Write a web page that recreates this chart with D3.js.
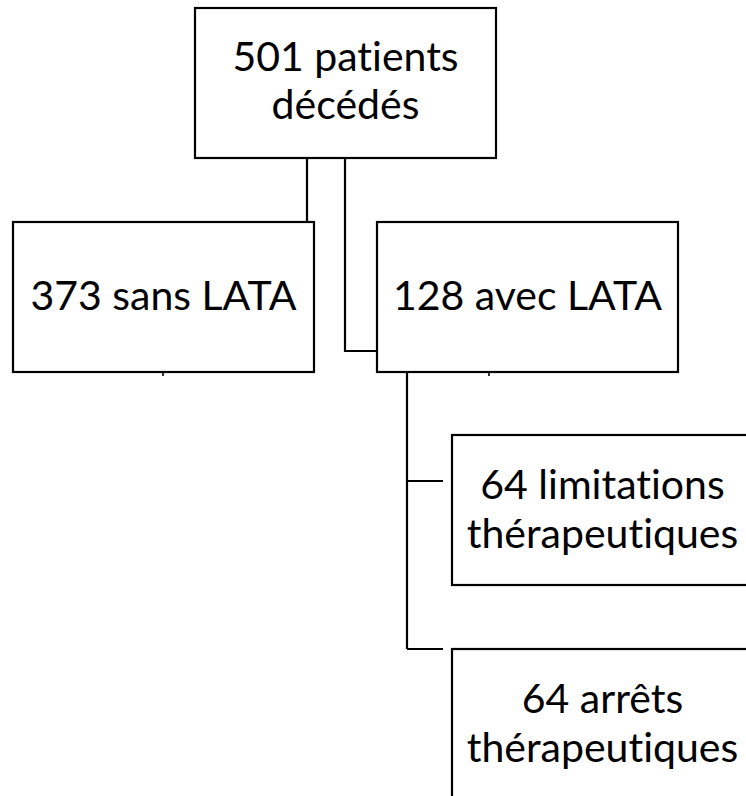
<!DOCTYPE html>
<html>
<head>
<meta charset="utf-8">
<script src="https://cdn.jsdelivr.net/npm/d3@7"></script>
<style>
  html, body { margin: 0; padding: 0; background: #fff; overflow: hidden; }
  svg { display: block; }
  text { font-variant-ligatures: none; font-feature-settings: "liga" 0, "clig" 0; }
</style>
</head>
<body>
<div id="chart"></div>
<script>
// ---- data ----
const counts = [501, 373, 128, 64, 64];
const labelLines = [
  ["patients", "décédés"],
  ["sans LATA"],
  ["avec LATA"],
  ["limitations", "thérapeutiques"],
  ["arrêts", "thérapeutiques"]
];
const parents = [null, 0, 0, 2, 2];

// ---- layout (positions / sizes, separate from data) ----
const W = 746, H = 796;
const boxW = 301, boxH = 150;
const colLeft = [195, 13, 377, 452, 452];
const rowTop  = [8, 222, 222, 435, 649];
const lineGap = [48, 48, 48, 49, 49];
const textShift = [12, 13, 13, 13, 13];
const fontSize = 41;

const svg = d3.select("#chart").append("svg")
  .attr("width", W).attr("height", H)
  .attr("viewBox", `0 0 ${W} ${H}`);

const nodes = counts.map((c, i) => {
  const lines = labelLines[i].slice();
  lines[0] = c + " " + lines[0];
  return {
    id: i, count: c, lines, parent: parents[i],
    x: colLeft[i], y: rowTop[i], w: boxW, h: boxH, gap: lineGap[i], shift: textShift[i]
  };
});

const stroke = "#000";
const sw = 2.2;

// ---- connectors ----
const g = svg.append("g").attr("fill", "none").attr("stroke", stroke).attr("stroke-width", sw);
const root = nodes[0], left = nodes[1], mid = nodes[2];
const link = d3.line();
g.append("path").attr("d", link([[root.x + 112, root.y + root.h], [root.x + 112, left.y], [left.x + left.w, left.y]]));
g.append("path").attr("d", link([[root.x + 150, root.y + root.h], [root.x + 150, mid.y + 129], [mid.x, mid.y + 129]]));
const trunkX = mid.x + 30;
const kids = nodes.filter(n => n.parent === 2);
const branchY = [kids[0].y + 46, kids[1].y];
g.append("path").attr("d", link([[trunkX, mid.y + mid.h], [trunkX, d3.max(branchY)]]));
branchY.forEach((by, k) => {
  g.append("path").attr("d", link([[trunkX, by], [kids[k].x - 9, by]]));
});
[[left.x + 150], [mid.x + 112]].forEach(([tx], k) => {
  const n = k === 0 ? left : mid;
  g.append("path").attr("stroke-width", 1.6).attr("d", link([[tx, n.y + n.h], [tx, n.y + n.h + 4]]));
});

// ---- boxes ----
const box = svg.selectAll("g.node").data(nodes).join("g").attr("class", "node");
box.append("rect")
  .attr("x", d => d.x).attr("y", d => d.y)
  .attr("width", d => d.w).attr("height", d => d.h)
  .attr("fill", "#fff").attr("stroke", stroke).attr("stroke-width", sw);

box.each(function(d) {
  const t = d3.select(this).append("text")
    .attr("font-family", "Lato, 'Open Sans', sans-serif")
    .attr("font-size", fontSize)
    .attr("fill", "#000")
    .attr("text-anchor", "middle");
  const cx = d.x + d.w / 2, cy = d.y + d.h / 2;
  const n = d.lines.length;
  d.lines.forEach((ln, i) => {
    t.append("tspan")
      .attr("x", cx)
      .attr("y", cy + d.shift + (i - (n - 1) / 2) * d.gap)
      .text(ln);
  });
});
</script>
</body>
</html>
